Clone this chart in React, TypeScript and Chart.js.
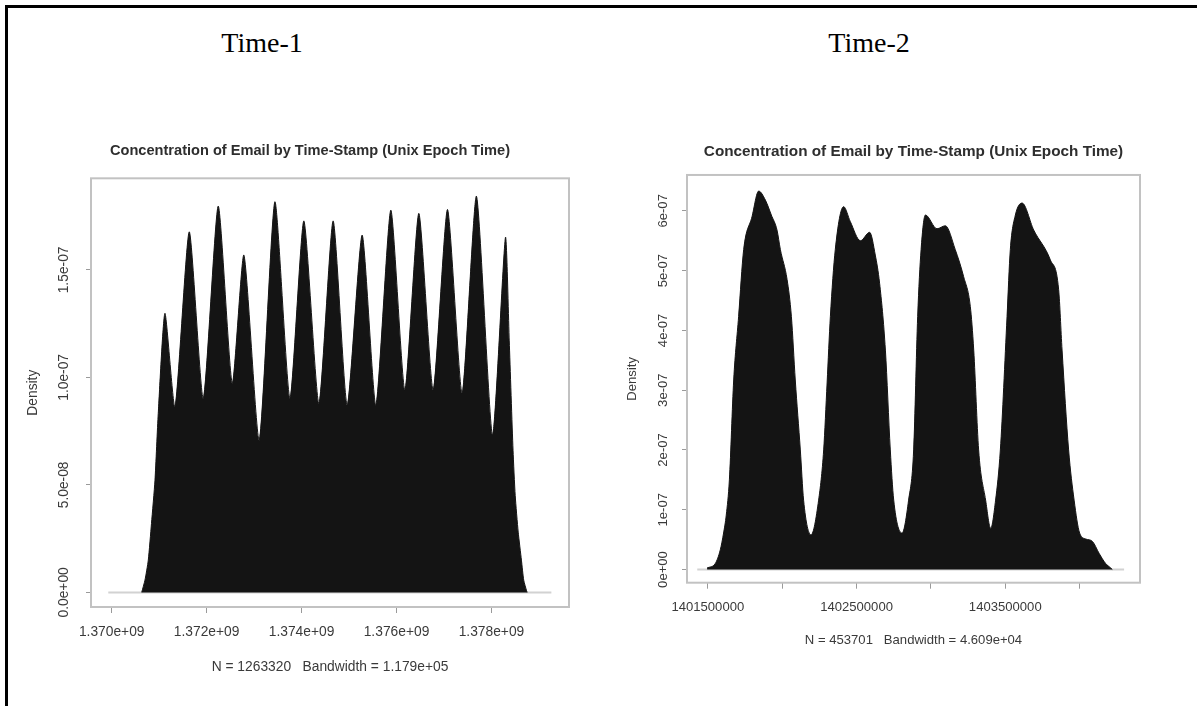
import React, { useEffect, useRef } from "react";
import { Chart, registerables } from "chart.js";

Chart.register(...registerables);

// ---------- Time-1 (left panel) ----------
// extent of the estimated density curve (grey zero line)
const time1Support = [1369928000, 1379263000];
const time1Stamps = [
  1370632000, 1370701000, 1370771000, 1370838000, 1370912000, 1370981000,
  1371122000, 1371333000, 1371634000, 1371928000, 1372244000, 1372539000, 1372785000,
  1373107000, 1373438000, 1373754000, 1374048000, 1374364000, 1374665000, 1374960000,
  1375276000, 1375564000, 1375880000, 1376175000, 1376470000, 1376771000, 1377074000,
  1377381000, 1377684000, 1378021000, 1378295000, 1378375000, 1378455000, 1378501000,
  1378564000, 1378632000, 1378680000, 1378737000, 1378754000,
];
const time1Density = [
  0, 0.057e-7, 0.15e-7, 0.32e-7, 0.522e-7, 0.833e-7,
  1.298e-7, 0.863e-7, 1.677e-7, 0.902e-7, 1.797e-7, 0.972e-7, 1.569e-7,
  0.708e-7, 1.817e-7, 0.902e-7, 1.728e-7, 0.879e-7, 1.728e-7, 0.871e-7,
  1.662e-7, 0.871e-7, 1.778e-7, 0.941e-7, 1.763e-7, 0.941e-7, 1.781e-7,
  0.926e-7, 1.843e-7, 0.732e-7, 1.651e-7, 1.17e-7, 0.661e-7, 0.45e-7,
  0.28e-7, 0.15e-7, 0.057e-7, 0.01e-7, 0,
];
const time1XTicks = [1370000000, 1372000000, 1374000000, 1376000000, 1378000000];
const time1XTickLabels = ["1.370e+09", "1.372e+09", "1.374e+09", "1.376e+09", "1.378e+09"];
const time1YTicks = [0, 5e-8, 1e-7, 1.5e-7];
const time1YTickLabels = ["0.0e+00", "5.0e-08", "1.0e-07", "1.5e-07"];
const time1Caption = "N = 1263320   Bandwidth = 1.179e+05";

// ---------- Time-2 (right panel) ----------
const time2Support = [1401429000, 1404299000];
const time2Stamps = [
  1401495000, 1401550000, 1401584000, 1401606000, 1401624000, 1401645000,
  1401674000, 1401707000, 1401741000, 1401797000, 1401842000, 1401887000, 1401927000,
  1401965000, 1401988000, 1402033000, 1402062000, 1402088000, 1402122000, 1402144000,
  1402194000, 1402245000, 1402279000, 1402302000, 1402324000, 1402357000, 1402413000,
  1402458000, 1402526000, 1402588000, 1402626000, 1402655000, 1402694000, 1402727000,
  1402750000, 1402806000, 1402850000, 1402884000, 1402911000, 1402934000, 1402963000,
  1403041000, 1403097000, 1403164000, 1403220000, 1403265000, 1403288000, 1403321000,
  1403368000, 1403402000, 1403435000, 1403467000, 1403512000, 1403534000, 1403568000,
  1403613000, 1403691000, 1403803000, 1403859000, 1403882000, 1403926000, 1403963000,
  1404000000, 1404041000, 1404086000, 1404131000, 1404175000, 1404207000, 1404220000,
];
const time2Density = [
  0.025e-7, 0.1e-7, 0.33e-7, 0.61e-7, 0.91e-7, 1.5e-7,
  3.17e-7, 4.23e-7, 5.35e-7, 5.9e-7, 6.33e-7, 6.18e-7, 5.93e-7,
  5.68e-7, 5.35e-7, 4.85e-7, 4.23e-7, 3.17e-7, 2.0e-7, 1.16e-7,
  0.58e-7, 1.16e-7, 2.0e-7, 3.12e-7, 4.23e-7, 5.35e-7, 6.07e-7,
  5.82e-7, 5.5e-7, 5.64e-7, 5.26e-7, 4.79e-7, 3.67e-7, 2.0e-7,
  1.16e-7, 0.61e-7, 1.16e-7, 2.0e-7, 4.23e-7, 5.35e-7, 5.93e-7,
  5.7e-7, 5.75e-7, 5.35e-7, 4.9e-7, 4.4e-7, 3.67e-7, 2.0e-7,
  1.16e-7, 0.69e-7, 1.16e-7, 2.0e-7, 4.23e-7, 5.35e-7, 5.93e-7,
  6.13e-7, 5.68e-7, 5.18e-7, 4.68e-7, 3.67e-7, 2.0e-7, 1.16e-7,
  0.61e-7, 0.51e-7, 0.47e-7, 0.27e-7, 0.1e-7, 0.03e-7, 0,
];
const time2XTicks = [1401500000, 1402000000, 1402500000, 1403000000, 1403500000, 1404000000];
const time2XTickLabels = ["1401500000", "", "1402500000", "", "1403500000", ""];
const time2YTicks = [0, 1e-7, 2e-7, 3e-7, 4e-7, 5e-7, 6e-7];
const time2YTickLabels = ["0e+00", "1e-07", "2e-07", "3e-07", "4e-07", "5e-07", "6e-07"];
const time2Caption = "N = 453701   Bandwidth = 4.609e+04";

const plotTitle = "Concentration of Email by Time-Stamp (Unix Epoch Time)";
const SANS = '"Liberation Sans", Arial, Helvetica, sans-serif';

type PanelProps = {
  support: number[];
  stamps: number[];
  density: number[];
  xTicks: number[];
  xTickLabels: string[];
  yTicks: number[];
  yTickLabels: string[];
  caption: string;
  xMin: number; xMax: number; yMin: number; yMax: number;
  left: number; top: number; width: number; height: number;
  padLeft: number; yAxisWidth: number; xAxisHeight: number; padRight: number;
  textSize: number; titleSize: number; titleFullSize: boolean;
  titlePadTop: number; titlePadBottom: number;
  yTitlePad: number; yTickPad: number; xTickPad: number; xTitlePad: number;
  tension: number; monotone: boolean;
};

const boxPlugin = {
  id: "rbox",
  afterDatasetsDraw(chart: any) {
    const { ctx, chartArea: a } = chart;
    ctx.save();
    ctx.strokeStyle = "#c2c2c2";
    ctx.lineWidth = 2;
    ctx.strokeRect(a.left, a.top, a.right - a.left, a.bottom - a.top);
    ctx.restore();
  },
};

function DensityPanel(p: PanelProps) {
  const ref = useRef<HTMLCanvasElement | null>(null);
  useEffect(() => {
    if (!ref.current) return;
    const pts = p.stamps.map((x, i) => ({ x, y: p.density[i] }));
    const zeroLine = p.support.map((x) => ({ x, y: 0 }));
    const textFont = { family: SANS, size: p.textSize };
    const chart = new Chart(ref.current, {
      type: "line",
      data: {
        datasets: [
          {
            data: pts,
            fill: "origin",
            backgroundColor: "#141414",
            borderColor: "#141414",
            borderWidth: 1,
            pointRadius: 0,
            tension: p.tension,
            cubicInterpolationMode: p.monotone ? "monotone" : "default",
          },
          {
            data: zeroLine,
            fill: false,
            borderColor: "#d2d2d2",
            borderWidth: 2,
            pointRadius: 0,
          },
        ],
      } as any,
      options: {
        animation: false,
        responsive: false,
        maintainAspectRatio: false,
        events: [],
        layout: { padding: { left: p.padLeft, right: p.padRight, top: 0, bottom: 0 } },
        plugins: {
          legend: { display: false },
          tooltip: { enabled: false },
          title: {
            display: true,
            text: plotTitle,
            fullSize: p.titleFullSize,
            color: "#2e2e2e",
            font: { family: SANS, size: p.titleSize, weight: "bold" },
            padding: { top: p.titlePadTop, bottom: p.titlePadBottom },
          },
        },
        scales: {
          x: {
            type: "linear",
            min: p.xMin,
            max: p.xMax,
            afterBuildTicks: (axis: any) => {
              axis.ticks = p.xTicks.map((v) => ({ value: v }));
            },
            afterFit: (s: any) => {
              s.height = p.xAxisHeight;
            },
            grid: { drawOnChartArea: false, drawTicks: true, tickLength: 6, color: "#9a9a9a", lineWidth: 1 },
            border: { display: false },
            ticks: {
              autoSkip: false,
              maxRotation: 0,
              minRotation: 0,
              padding: p.xTickPad,
              color: "#3a3a3a",
              font: textFont,
              callback: (_v: any, i: number) => p.xTickLabels[i],
            },
            title: {
              display: true,
              text: p.caption,
              color: "#3a3a3a",
              font: textFont,
              padding: { top: 0, bottom: p.xTitlePad },
            },
          },
          y: {
            type: "linear",
            min: p.yMin,
            max: p.yMax,
            afterBuildTicks: (axis: any) => {
              axis.ticks = p.yTicks.map((v) => ({ value: v }));
            },
            afterFit: (s: any) => {
              s.width = p.yAxisWidth;
            },
            grid: { drawOnChartArea: false, drawTicks: true, tickLength: 5, color: "#9a9a9a", lineWidth: 1 },
            border: { display: false },
            ticks: {
              autoSkip: false,
              minRotation: 90,
              maxRotation: 90,
              crossAlign: "center",
              padding: p.yTickPad,
              color: "#3a3a3a",
              font: textFont,
              callback: (_v: any, i: number) => p.yTickLabels[i],
            },
            title: {
              display: true,
              text: "Density",
              color: "#3a3a3a",
              font: textFont,
              padding: { top: p.yTitlePad, bottom: 0 },
            },
          },
        },
      } as any,
      plugins: [boxPlugin],
    });
    return () => chart.destroy();
  }, []);
  return (
    <canvas
      ref={ref}
      width={p.width}
      height={p.height}
      style={{ position: "absolute", left: p.left, top: p.top, width: p.width, height: p.height }}
    />
  );
}

const headingStyle = (cx: number): React.CSSProperties => ({
  position: "absolute",
  left: cx - 100,
  top: 23,
  width: 200,
  textAlign: "center",
  fontFamily: '"Liberation Serif", "Times New Roman", serif',
  fontSize: 28,
  lineHeight: "40px",
  color: "#000",
});

export default function App() {
  return (
    <div
      style={{
        position: "fixed",
        left: 0,
        top: 0,
        width: 1197,
        height: 706,
        overflow: "hidden",
        background: "#fff",
      }}
    >
      <div
        style={{
          position: "absolute",
          left: 5,
          top: 5,
          width: 1300,
          height: 800,
          borderLeft: "3px solid #000",
          borderTop: "3px solid #000",
        }}
      />
      <div style={headingStyle(262)}>Time-1</div>
      <div style={headingStyle(869)}>Time-2</div>
      <DensityPanel
        support={time1Support}
        stamps={time1Stamps}
        density={time1Density}
        xTicks={time1XTicks}
        xTickLabels={time1XTickLabels}
        yTicks={time1YTicks}
        yTickLabels={time1YTickLabels}
        caption={time1Caption}
        xMin={1369564000}
        xMax={1379634000}
        yMin={-0.068e-7}
        yMax={1.926e-7}
        left={0}
        top={100}
        width={600}
        height={606}
        padLeft={51}
        yAxisWidth={40}
        xAxisHeight={99}
        padRight={31}
        textSize={13.8}
        titleSize={14.6}
        titleFullSize={true}
        titlePadTop={42.2}
        titlePadBottom={18.6}
        yTitlePad={-26.3}
        yTickPad={-3.6}
        xTickPad={11}
        xTitlePad={30.7}
        tension={0.2}
        monotone={false}
      />
      <DensityPanel
        support={time2Support}
        stamps={time2Stamps}
        density={time2Density}
        xTicks={time2XTicks}
        xTickLabels={time2XTickLabels}
        yTicks={time2YTicks}
        yTickLabels={time2YTickLabels}
        caption={time2Caption}
        xMin={1401360000}
        xMax={1404406000}
        yMin={-0.221e-7}
        yMax={6.6e-7}
        left={600}
        top={100}
        width={597}
        height={606}
        padLeft={0}
        yAxisWidth={87}
        xAxisHeight={123.3}
        padRight={57}
        textSize={13.1}
        titleSize={15.3}
        titleFullSize={false}
        titlePadTop={42.8}
        titlePadBottom={13.8}
        yTitlePad={24.2}
        yTickPad={0.3}
        xTickPad={11}
        xTitlePad={58.1}
        tension={0}
        monotone={true}
      />
    </div>
  );
}
